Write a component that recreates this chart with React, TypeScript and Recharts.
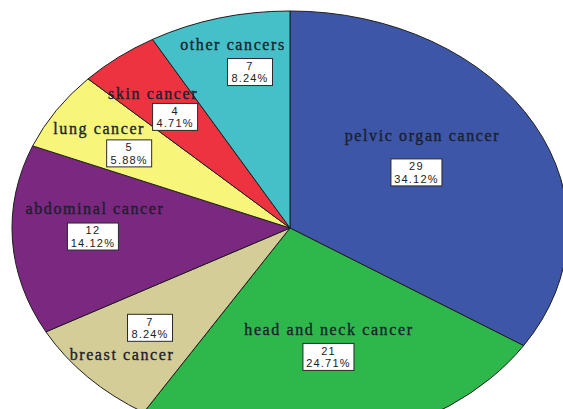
import React from 'react';
import { PieChart, Pie, Cell } from 'recharts';

const categories = [
  'pelvic organ cancer',
  'head and neck cancer',
  'breast cancer',
  'abdominal cancer',
  'lung cancer',
  'skin cancer',
  'other cancers',
];
const counts = [29, 21, 7, 12, 5, 4, 7];
const percentLabels = ['34.12%', '24.71%', '8.24%', '14.12%', '5.88%', '4.71%', '8.24%'];
const colors = ['#3d56a8', '#2eb84c', '#d4cd98', '#7a2880', '#f8f57b', '#ee3340', '#46c0c8'];

const data = categories.map((name, i) => ({ name, value: counts[i] }));

// layout
const CX = 290;
const CY = 228;
const RX = 278;
const RY = 217;
const RY_RATIO = RY / RX;
const LABEL_R = [0.522, 0.61, 0.682, 0.71, 0.673, 0.658, 0.733];
const LABEL_ANGLE_SHIFT = [0.8, 0.4, -1, 0, 2.1, 0.8, -3.5];
const NAME_DX = [6, 0.5, -28, 2, -30, -22, -17];
const NAME_DY = [-37, -27, 27, -28.5, -25, -23, -28];

const EllipseSector = (props: any) => {
  const { cx, cy, outerRadius, startAngle, endAngle, fill } = props;
  const rx = outerRadius;
  const ry = outerRadius * RY_RATIO;
  const toXY = (a: number) => [
    cx + rx * Math.cos((a * Math.PI) / 180),
    cy - ry * Math.sin((a * Math.PI) / 180),
  ];
  const [x1, y1] = toXY(startAngle);
  const [x2, y2] = toXY(endAngle);
  const delta = Math.abs(endAngle - startAngle);
  const large = delta > 180 ? 1 : 0;
  const sweep = startAngle > endAngle ? 1 : 0;
  const d = `M${cx},${cy} L${x1},${y1} A${rx},${ry} 0 ${large} ${sweep} ${x2},${y2} Z`;
  return <path d={d} fill={fill} stroke="#1e1e1e" strokeWidth={1} />;
};

const renderLabel = (p: any) => {
  const i = p.index;
  const a = ((p.midAngle + LABEL_ANGLE_SHIFT[i]) * Math.PI) / 180;
  const k = LABEL_R[i];
  const bx = p.cx + p.outerRadius * k * Math.cos(a);
  const by = p.cy - p.outerRadius * RY_RATIO * k * Math.sin(a);
  const pct = percentLabels[i];
  const w = pct.length * 6 + 15;
  const h = 27;
  return (
    <g key={`lbl-${i}`}>
      <text
        x={bx + NAME_DX[i]}
        y={by + NAME_DY[i]}
        textAnchor="middle"
        dominantBaseline="central"
        fontFamily="'Liberation Serif', 'Times New Roman', serif"
        fontSize={16}
        letterSpacing={1.6}
        fill="#1a1f2e"
        stroke="#1a1f2e"
        strokeWidth={0.35}
      >
        {categories[i]}
      </text>
      <rect x={bx - w / 2} y={by - h / 2} width={w} height={h} fill="#ffffff" stroke="#2a2a2a" strokeWidth={1} />
      <text
        x={bx}
        y={by - 6.2}
        textAnchor="middle"
        dominantBaseline="central"
        fontFamily="'Liberation Sans', Arial, sans-serif"
        fontSize={11}
        letterSpacing={1.2}
        fill="#222222"
      >
        {counts[i]}
      </text>
      <text
        x={bx}
        y={by + 6.3}
        textAnchor="middle"
        dominantBaseline="central"
        fontFamily="'Liberation Sans', Arial, sans-serif"
        fontSize={11}
        letterSpacing={1.2}
        fill="#222222"
      >
        {pct}
      </text>
    </g>
  );
};

export default function App() {
  return (
    <div style={{ position: 'absolute', left: 0, top: 0, width: 563, height: 409, background: '#fff' }}>
      <PieChart width={563} height={409} margin={{ top: 0, right: 0, bottom: 0, left: 0 }}>
        <Pie
          data={data}
          dataKey="value"
          nameKey="name"
          cx={CX}
          cy={CY}
          outerRadius={RX}
          startAngle={90}
          endAngle={-270}
          isAnimationActive={false}
          shape={EllipseSector}
          label={renderLabel}
          labelLine={false}
          stroke="#1e1e1e"
        >
          {data.map((d, i) => (
            <Cell key={d.name} fill={colors[i]} />
          ))}
        </Pie>
      </PieChart>
    </div>
  );
}
